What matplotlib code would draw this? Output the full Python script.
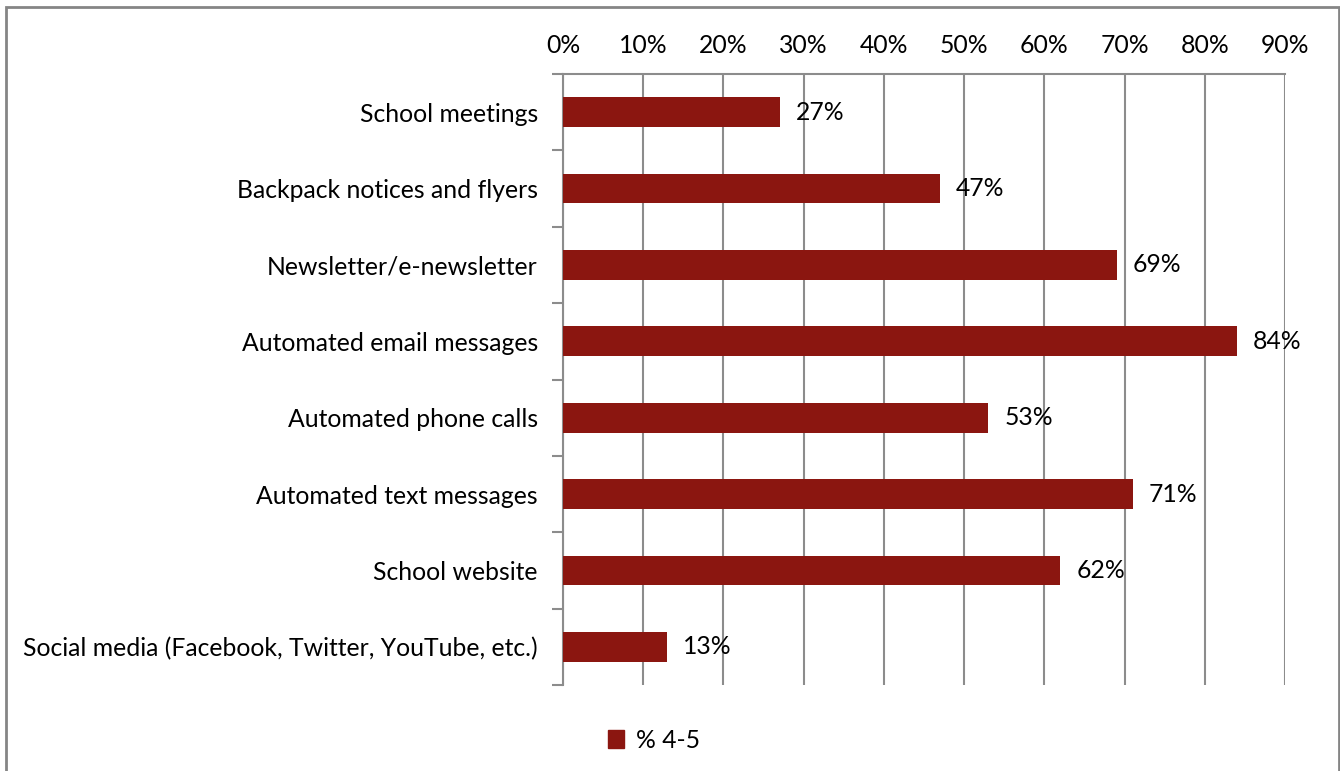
import matplotlib.pyplot as plt
from matplotlib.patches import Rectangle, Patch
from matplotlib.ticker import MultipleLocator, FuncFormatter

channels = [
    "School meetings",
    "Backpack notices and flyers",
    "Newsletter/e-newsletter",
    "Automated email messages",
    "Automated phone calls",
    "Automated text messages",
    "School website",
    "Social media (Facebook, Twitter, YouTube, etc.)",
]
pct_4_5 = [27, 47, 69, 84, 53, 71, 62, 13]

bar_color = "#8B1610"
grid_color = "#8C8C8C"

plt.rcParams["font.family"] = ["Lato", "DejaVu Sans"]
plt.rcParams["font.size"] = 17.8

fig = plt.figure(figsize=(13.4, 7.71), dpi=100)
ax = fig.add_axes([0.4201, 0.1115, 0.5389, 0.7925])

y = list(range(len(channels)))
ax.barh(y, pct_4_5, height=0.39, color=bar_color, zorder=3)
for yi, v in zip(y, pct_4_5):
    ax.text(v + 2.0, yi, f"{v}%", va="center", ha="left", zorder=4)

ax.set_xlim(0, 90)
ax.set_ylim(len(channels) - 0.5, -0.5)
ax.xaxis.set_major_locator(MultipleLocator(10))
ax.xaxis.set_major_formatter(FuncFormatter(lambda v, p: f"{v:.0f}%"))
ax.xaxis.tick_top()
ax.tick_params(axis="x", length=0, pad=12)
ax.grid(axis="x", color=grid_color, linewidth=1.5, zorder=0)

ax.set_yticks(y)
ax.set_yticklabels(channels)
ax.tick_params(axis="y", length=0, pad=18)
# category boundary tick marks on the left axis
ax.set_yticks([i - 0.5 for i in range(len(channels) + 1)], minor=True)
ax.tick_params(axis="y", which="minor", length=8, width=1.5, color=grid_color)

for side in ("right", "bottom"):
    ax.spines[side].set_visible(False)
for side in ("left", "top"):
    ax.spines[side].set_color(grid_color)
    ax.spines[side].set_linewidth(1.5)

fig.legend(handles=[Patch(color=bar_color, label="% 4-5")],
           loc="center", bbox_to_anchor=(0.488, 0.04), frameon=False,
           handlelength=0.65, handleheight=0.7, handletextpad=0.45)

fig.patches.append(Rectangle((6 / 1340, -0.05), 1333 / 1340, 1.05 - 7 / 771,
                             transform=fig.transFigure, fill=False,
                             edgecolor="#858585", linewidth=2.0))

fig.savefig("out.png", dpi=100)
